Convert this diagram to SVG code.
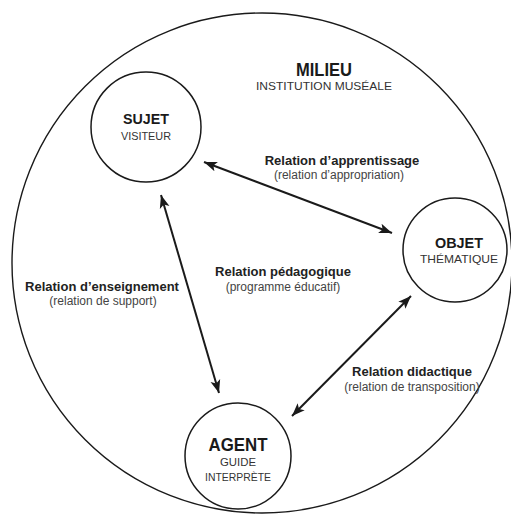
<svg xmlns="http://www.w3.org/2000/svg" width="511" height="518" viewBox="0 0 511 518">
<style>
  .ring { fill: none; stroke: #1a1a1a; stroke-width: 1.4; }
  .node { fill: #ffffff; stroke: #1a1a1a; stroke-width: 1.5; }
  .conn { stroke: #1a1a1a; stroke-width: 2; fill: none; marker-start: url(#ah); marker-end: url(#ah); }
  .title { font-family: "Liberation Sans", Arial, sans-serif; font-weight: bold; fill: #1a1a1a; text-anchor: middle; }
  .sub { font-family: "Liberation Sans", Arial, sans-serif; fill: #333333; text-anchor: middle; }
  .rel { font-family: "Liberation Sans", Arial, sans-serif; font-weight: bold; font-size: 13px; fill: #222222; text-anchor: middle; }
  .par { font-family: "Liberation Sans", Arial, sans-serif; font-size: 12px; fill: #444444; text-anchor: middle; }
</style>
<defs>
  <marker id="ah" markerUnits="userSpaceOnUse" markerWidth="14" markerHeight="12" viewBox="0 0 14 12" refX="13" refY="6" orient="auto-start-reverse">
    <path d="M0,1 L13,6 L0,11 L3,6 Z" fill="#1a1a1a"/>
  </marker>
</defs>
<rect width="511" height="518" fill="#ffffff"/>
<g id="milieu">
  <circle class="ring" cx="262" cy="263" r="250"/>
  <text class="title" x="324" y="76" font-size="18" textLength="56" lengthAdjust="spacingAndGlyphs">MILIEU</text>
  <text class="sub" x="324" y="90" font-size="11" textLength="136" lengthAdjust="spacingAndGlyphs">INSTITUTION MUSÉALE</text>
</g>
<g id="connectors">
  <line class="conn" x1="204" y1="162" x2="392" y2="233"/>
  <line class="conn" x1="161" y1="195" x2="219" y2="393"/>
  <line class="conn" x1="411" y1="296" x2="292" y2="416"/>
</g>
<g id="sujet">
  <circle class="node" cx="146" cy="127" r="55"/>
  <text class="title" x="146" y="124" font-size="15" textLength="46" lengthAdjust="spacingAndGlyphs">SUJET</text>
  <text class="sub" x="146" y="140" font-size="11" textLength="50" lengthAdjust="spacingAndGlyphs">VISITEUR</text>
</g>
<g id="objet">
  <circle class="node" cx="455" cy="250" r="52"/>
  <text class="title" x="459" y="248" font-size="15" textLength="48" lengthAdjust="spacingAndGlyphs">OBJET</text>
  <text class="sub" x="459" y="263" font-size="11" textLength="78" lengthAdjust="spacingAndGlyphs">THÉMATIQUE</text>
</g>
<g id="agent">
  <circle class="node" cx="238" cy="456" r="53"/>
  <text class="title" x="238" y="451" font-size="19" textLength="59" lengthAdjust="spacingAndGlyphs">AGENT</text>
  <text class="sub" x="238" y="466" font-size="11" textLength="36" lengthAdjust="spacingAndGlyphs">GUIDE</text>
  <text class="sub" x="238" y="481" font-size="11" textLength="66" lengthAdjust="spacingAndGlyphs">INTERPRÈTE</text>
</g>
<g id="labels">
  <text class="rel" x="342" y="165">Relation d’apprentissage</text>
  <text class="par" x="339" y="179">(relation d’appropriation)</text>
  <text class="rel" x="283" y="276">Relation pédagogique</text>
  <text class="par" x="283" y="291">(programme éducatif)</text>
  <text class="rel" x="102" y="291">Relation d’enseignement</text>
  <text class="par" x="103" y="305">(relation de support)</text>
  <text class="rel" x="412" y="376">Relation didactique</text>
  <text class="par" x="412" y="391">(relation de transposition)</text>
</g>
</svg>
